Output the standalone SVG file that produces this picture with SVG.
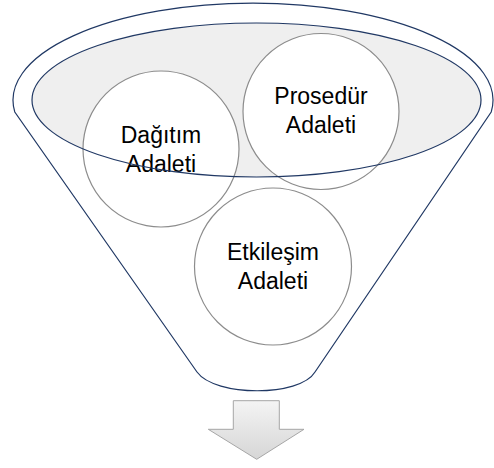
<svg xmlns="http://www.w3.org/2000/svg" width="494" height="468" viewBox="0 0 494 468">
<defs>
<style>
.nv{fill:none;stroke:#203864;stroke-width:1.2}
.c{fill:#ffffff;stroke:#8c8c8c;stroke-width:1.2}
.t{font-family:"Liberation Sans",Arial,sans-serif;font-size:23px;fill:#000;text-anchor:middle}
</style>
<linearGradient id="ag" x1="0" y1="0" x2="0" y2="1">
<stop offset="0" stop-color="#f4f4f4"/>
<stop offset="1" stop-color="#d6d6d6"/>
</linearGradient>
</defs>
<g id="funnel">
<path d="M14.8,112 A240 97 0 1 1 491.2,112 L315,372 C300,397 215,397 197,372 Z" fill="#ffffff" stroke="#203864" stroke-width="1.2"/>
<ellipse cx="256.5" cy="100" rx="224.5" ry="77" fill="#efefef"/>
</g>
<g id="dagitim">
<circle class="c" cx="161" cy="149" r="78"/>
<text class="t" x="161" y="143">Dağıtım</text>
<text class="t" x="161" y="172">Adaleti</text>
</g>
<g id="prosedur">
<circle class="c" cx="321" cy="111.5" r="78"/>
<text class="t" x="321" y="104">Prosedür</text>
<text class="t" x="321" y="133">Adaleti</text>
</g>
<g id="etkilesim">
<circle class="c" cx="273" cy="266.5" r="78.5"/>
<text class="t" x="273" y="260">Etkileşim</text>
<text class="t" x="273" y="289">Adaleti</text>
</g>
<g id="rim">
<ellipse class="nv" cx="256.5" cy="100" rx="224.5" ry="77"/>
</g>
<g id="connectors">
<path d="M233.3,400.7 H279.3 V429.3 H304 L256.7,459.3 L208.3,429.3 H233.3 Z" fill="url(#ag)" stroke="#a6a6a6" stroke-width="1"/>
</g>
</svg>
